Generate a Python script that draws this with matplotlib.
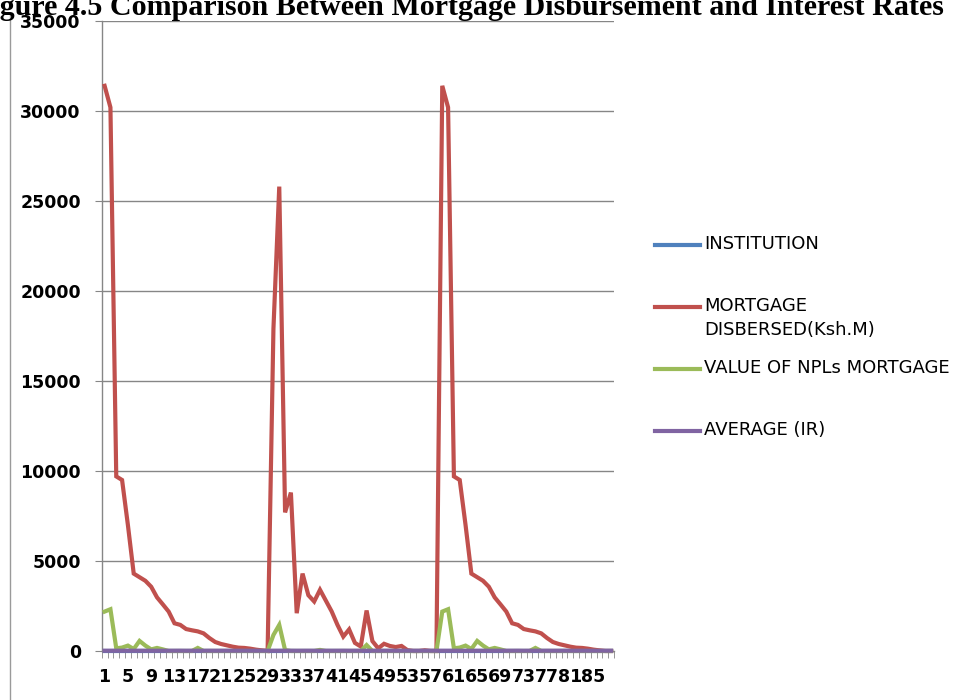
import matplotlib
matplotlib.use('Agg')
from matplotlib import pyplot as plt
from matplotlib.lines import Line2D
import numpy as np

# series, three blocks of institutions
mortgage_a = [31400, 30200, 9700, 9500, 7000, 4300, 4100, 3900, 3570, 2980,
              2590, 2190, 1540, 1450, 1220, 1150, 1090, 980, 720, 500,
              390, 315, 240, 185, 170, 130, 75, 35]
mortgage_b = [0, 17900, 25800, 7700, 8800, 2100, 4300, 3100, 2750, 3400,
              2800, 2200, 1450, 800, 1200, 450, 250, 2250, 550, 150,
              400, 280, 220, 280, 50, 0, 0, 40, 0, 0]
mortgage_c = [31400, 30200, 9700, 9500, 7000, 4300, 4100, 3900, 3570, 2980,
              2590, 2190, 1540, 1450, 1220, 1150, 1090, 980, 720, 500,
              390, 315, 240, 185, 170, 130, 75, 35, 0, 0]

npl_a = [2190, 2320, 150, 190, 300, 110, 560, 300, 90, 170,
         90, 0, 0, 0, 0, 0, 170, 0, 0, 0,
         0, 0, 0, 0, 0, 0, 0, 0]
npl_b = [0, 890, 1450, 50, 0, 0, 0, 0, 0, 60,
         0, 0, 0, 0, 0, 0, 0, 330, 0, 0,
         0, 0, 0, 0, 0, 0, 0, 0, 0, 0]
npl_c = [2190, 2320, 150, 190, 300, 110, 560, 300, 90, 170,
         90, 0, 0, 0, 0, 0, 170, 0, 0, 0,
         0, 0, 0, 0, 0, 0, 0, 0, 0, 0]

mortgage = mortgage_a + mortgage_b + mortgage_c
npl = npl_a + npl_b + npl_c
n = len(mortgage)

# institution column is text in the sheet, so it plots at zero
institution = [0] * n
# average interest rates (%), far too small to lift off the axis
avg_ir = [15.2, 14.8, 16.1, 15.5, 17.0, 14.9, 15.8, 16.4, 15.1, 14.6,
          16.8, 15.3, 15.9, 17.2, 14.7, 15.6, 16.0, 15.4, 16.3, 14.9,
          15.7, 16.6, 15.0, 15.2, 16.9, 15.5, 14.8, 15.9,
          15.2, 14.8, 16.1, 15.5, 17.0, 14.9, 15.8, 16.4, 15.1, 14.6,
          16.8, 15.3, 15.9, 17.2, 14.7, 15.6, 16.0, 15.4, 16.3, 14.9,
          15.7, 16.6, 15.0, 15.2, 16.9, 15.5, 14.8, 15.9, 15.3, 15.1,
          15.2, 14.8, 16.1, 15.5, 17.0, 14.9, 15.8, 16.4, 15.1, 14.6,
          16.8, 15.3, 15.9, 17.2, 14.7, 15.6, 16.0, 15.4, 16.3, 14.9,
          15.7, 16.6, 15.0, 15.2, 16.9, 15.5, 14.8, 15.9, 15.3, 15.1]

series_names = ['INSTITUTION', 'MORTGAGE\nDISBERSED(Ksh.M)',
                'VALUE OF NPLs MORTGAGE', 'AVERAGE (IR)']
colors = ['#4F81BD', '#C0504D', '#9BBB59', '#8064A2']
title = 'Figure 4.5 Comparison Between Mortgage Disbursement and Interest Rates'

W, H = 975, 700
fig = plt.figure(figsize=(W / 100, H / 100), dpi=100)
fig.patch.set_facecolor('white')

def fx(px):
    return px / W

def fy(py):
    return 1 - py / H

ax = fig.add_axes([fx(101.7), fy(651), fx(614 - 101.7), 630 / H])

x = np.arange(1, n + 1)
all_series = [institution, mortgage, npl, avg_ir]
for vals, c in zip(all_series, colors):
    ax.plot(x, vals, color=c, lw=3, solid_joinstyle='miter', clip_on=False, zorder=3)

ax.set_xlim(0.5, n + 0.5)
ax.set_ylim(0, 35000)
ax.set_yticks(np.arange(0, 35001, 5000))
ax.yaxis.grid(True, color='#868686', lw=1)
ax.set_axisbelow(True)
for s in ['top', 'right']:
    ax.spines[s].set_visible(False)
for s in ['left', 'bottom']:
    ax.spines[s].set_color('#868686')
    ax.spines[s].set_linewidth(1)

ax.set_xticks(x[::4])
ax.set_xticklabels([str(v) for v in x[::4]])
ax.set_xticks(np.arange(0.5, n + 1, 1.0), minor=True)
ax.tick_params(axis='x', which='major', length=0, pad=12)
ax.tick_params(axis='x', which='minor', length=5, color='#868686', direction='out')
ax.tick_params(axis='y', length=5, color='#868686', pad=10)
for lab in ax.get_xticklabels() + ax.get_yticklabels():
    lab.set_fontsize(12.5)
    lab.set_fontweight('bold')
    lab.set_fontfamily('DejaVu Sans')

# legend to the right, Excel style
for i, (name, c) in enumerate(zip(series_names, colors)):
    ly = 245 + 62 * i
    fig.add_artist(Line2D([fx(655), fx(700)], [fy(ly), fy(ly)], color=c, lw=3))
    fig.text(fx(704), fy(ly - 10), name, fontsize=13, va='top', ha='left',
             family='DejaVu Sans', linespacing=1.45)

# chart border on the left, and the clipped caption on top
fig.add_artist(Line2D([fx(10), fx(10)], [fy(15), fy(700)], color='#9a9a9a', lw=1))
fig.text(fx(-27), fy(15), title, fontsize=21.6, fontweight='bold',
         family='Liberation Serif', va='baseline', ha='left')

plt.savefig('out.png', dpi=100)
